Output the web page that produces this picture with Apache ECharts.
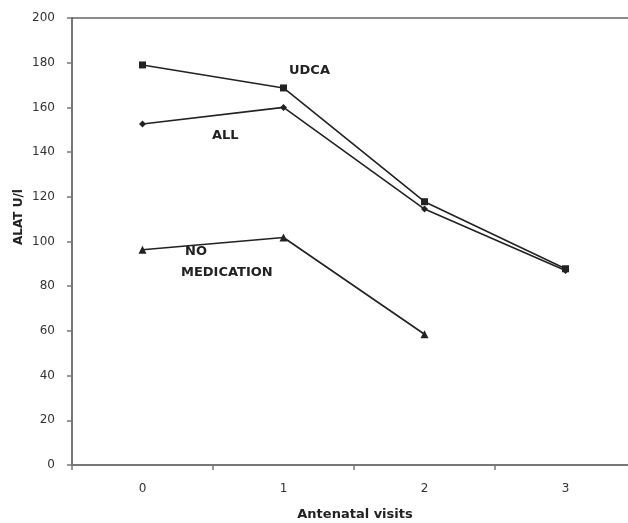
<!DOCTYPE html>
<html><head><meta charset="utf-8">
<script src="https://cdn.jsdelivr.net/npm/echarts@6/dist/echarts.min.js"></script>
<style>html,body{margin:0;padding:0;background:#fff}#c{width:628px;height:523px}</style>
</head><body><div id="c"></div>
<script>
var visits = [0, 1, 2, 3];
var xTickLabels = ['0', '1', '2', '3'];
var udca = [179, 168.7, 117.8, 87.8];
var all = [152.6, 160, 114.5, 87];
var noMed = [96.3, 101.8, 58.5];
var yTicks = [0, 20, 40, 60, 80, 100, 120, 140, 160, 180, 200];

function pairs(vals) { return vals.map(function (v, i) { return [visits[i], v]; }); }

var chart = echarts.init(document.getElementById('c'));
var lineStyle = {color: '#222', width: 1.6};
var font = '"DejaVu Sans", Verdana, sans-serif';
chart.setOption({
  animation: false,
  grid: {left: 72, top: 18, right: 0, height: 447, show: false},
  xAxis: [{
    type: 'value', min: -0.5, max: 3.443,
    axisLine: {onZero: false, lineStyle: {color: '#777', width: 2}},
    axisTick: {show: true, length: 5, customValues: [-0.5, 0.5, 1.5, 2.5], lineStyle: {color: '#777', width: 1.5}},
    axisLabel: {color: '#333', fontSize: 12, fontFamily: font, margin: 18, customValues: visits,
      formatter: function (v) { return xTickLabels[visits.indexOf(v)]; }},
    splitLine: {show: false}
  }, {
    type: 'value', position: 'top', min: -0.5, max: 3.443,
    axisLine: {show: true, onZero: false, lineStyle: {color: '#666', width: 1.5}},
    axisTick: {show: false}, axisLabel: {show: false}, splitLine: {show: false}
  }],
  yAxis: {
    type: 'value', min: 0, max: 200, interval: 20,
    axisLine: {show: true, onZero: false, lineStyle: {color: '#777', width: 2}},
    axisTick: {show: true, length: 5, lineStyle: {color: '#777', width: 1.5}},
    axisLabel: {color: '#333', fontSize: 12, fontFamily: font, margin: 17,
      formatter: function (v) { return yTicks.indexOf(v) >= 0 ? String(v) : ''; }},
    splitLine: {show: false}
  },
  series: [
    {name: 'UDCA', type: 'line', data: pairs(udca), symbol: 'rect', symbolSize: 7, lineStyle: lineStyle, itemStyle: {color: '#222'}},
    {name: 'ALL', type: 'line', data: pairs(all), symbol: 'diamond', symbolSize: 7, lineStyle: lineStyle, itemStyle: {color: '#222'}},
    {name: 'NO MEDICATION', type: 'line', data: pairs(noMed), symbol: 'triangle', symbolSize: 8, lineStyle: lineStyle, itemStyle: {color: '#222'}}
  ],
  graphic: [
    {type: 'text', left: 289, top: 64, style: {text: 'UDCA', font: 'bold 13px ' + font, fill: '#222'}},
    {type: 'text', left: 212, top: 129, style: {text: 'ALL', font: 'bold 13px ' + font, fill: '#222'}},
    {type: 'text', left: 185, top: 245, style: {text: 'NO', font: 'bold 13px ' + font, fill: '#222'}},
    {type: 'text', left: 181, top: 266, style: {text: 'MEDICATION', font: 'bold 13px ' + font, fill: '#222'}},
    {type: 'text', x: 19, y: 217, rotation: Math.PI / 2, style: {text: 'ALAT U/l', font: 'bold 12px ' + font, fill: '#222', align: 'center', verticalAlign: 'middle'}},
    {type: 'text', x: 355, y: 515, style: {text: 'Antenatal visits', font: 'bold 13px ' + font, fill: '#222', align: 'center', verticalAlign: 'middle'}}
  ]
});
</script></body></html>
